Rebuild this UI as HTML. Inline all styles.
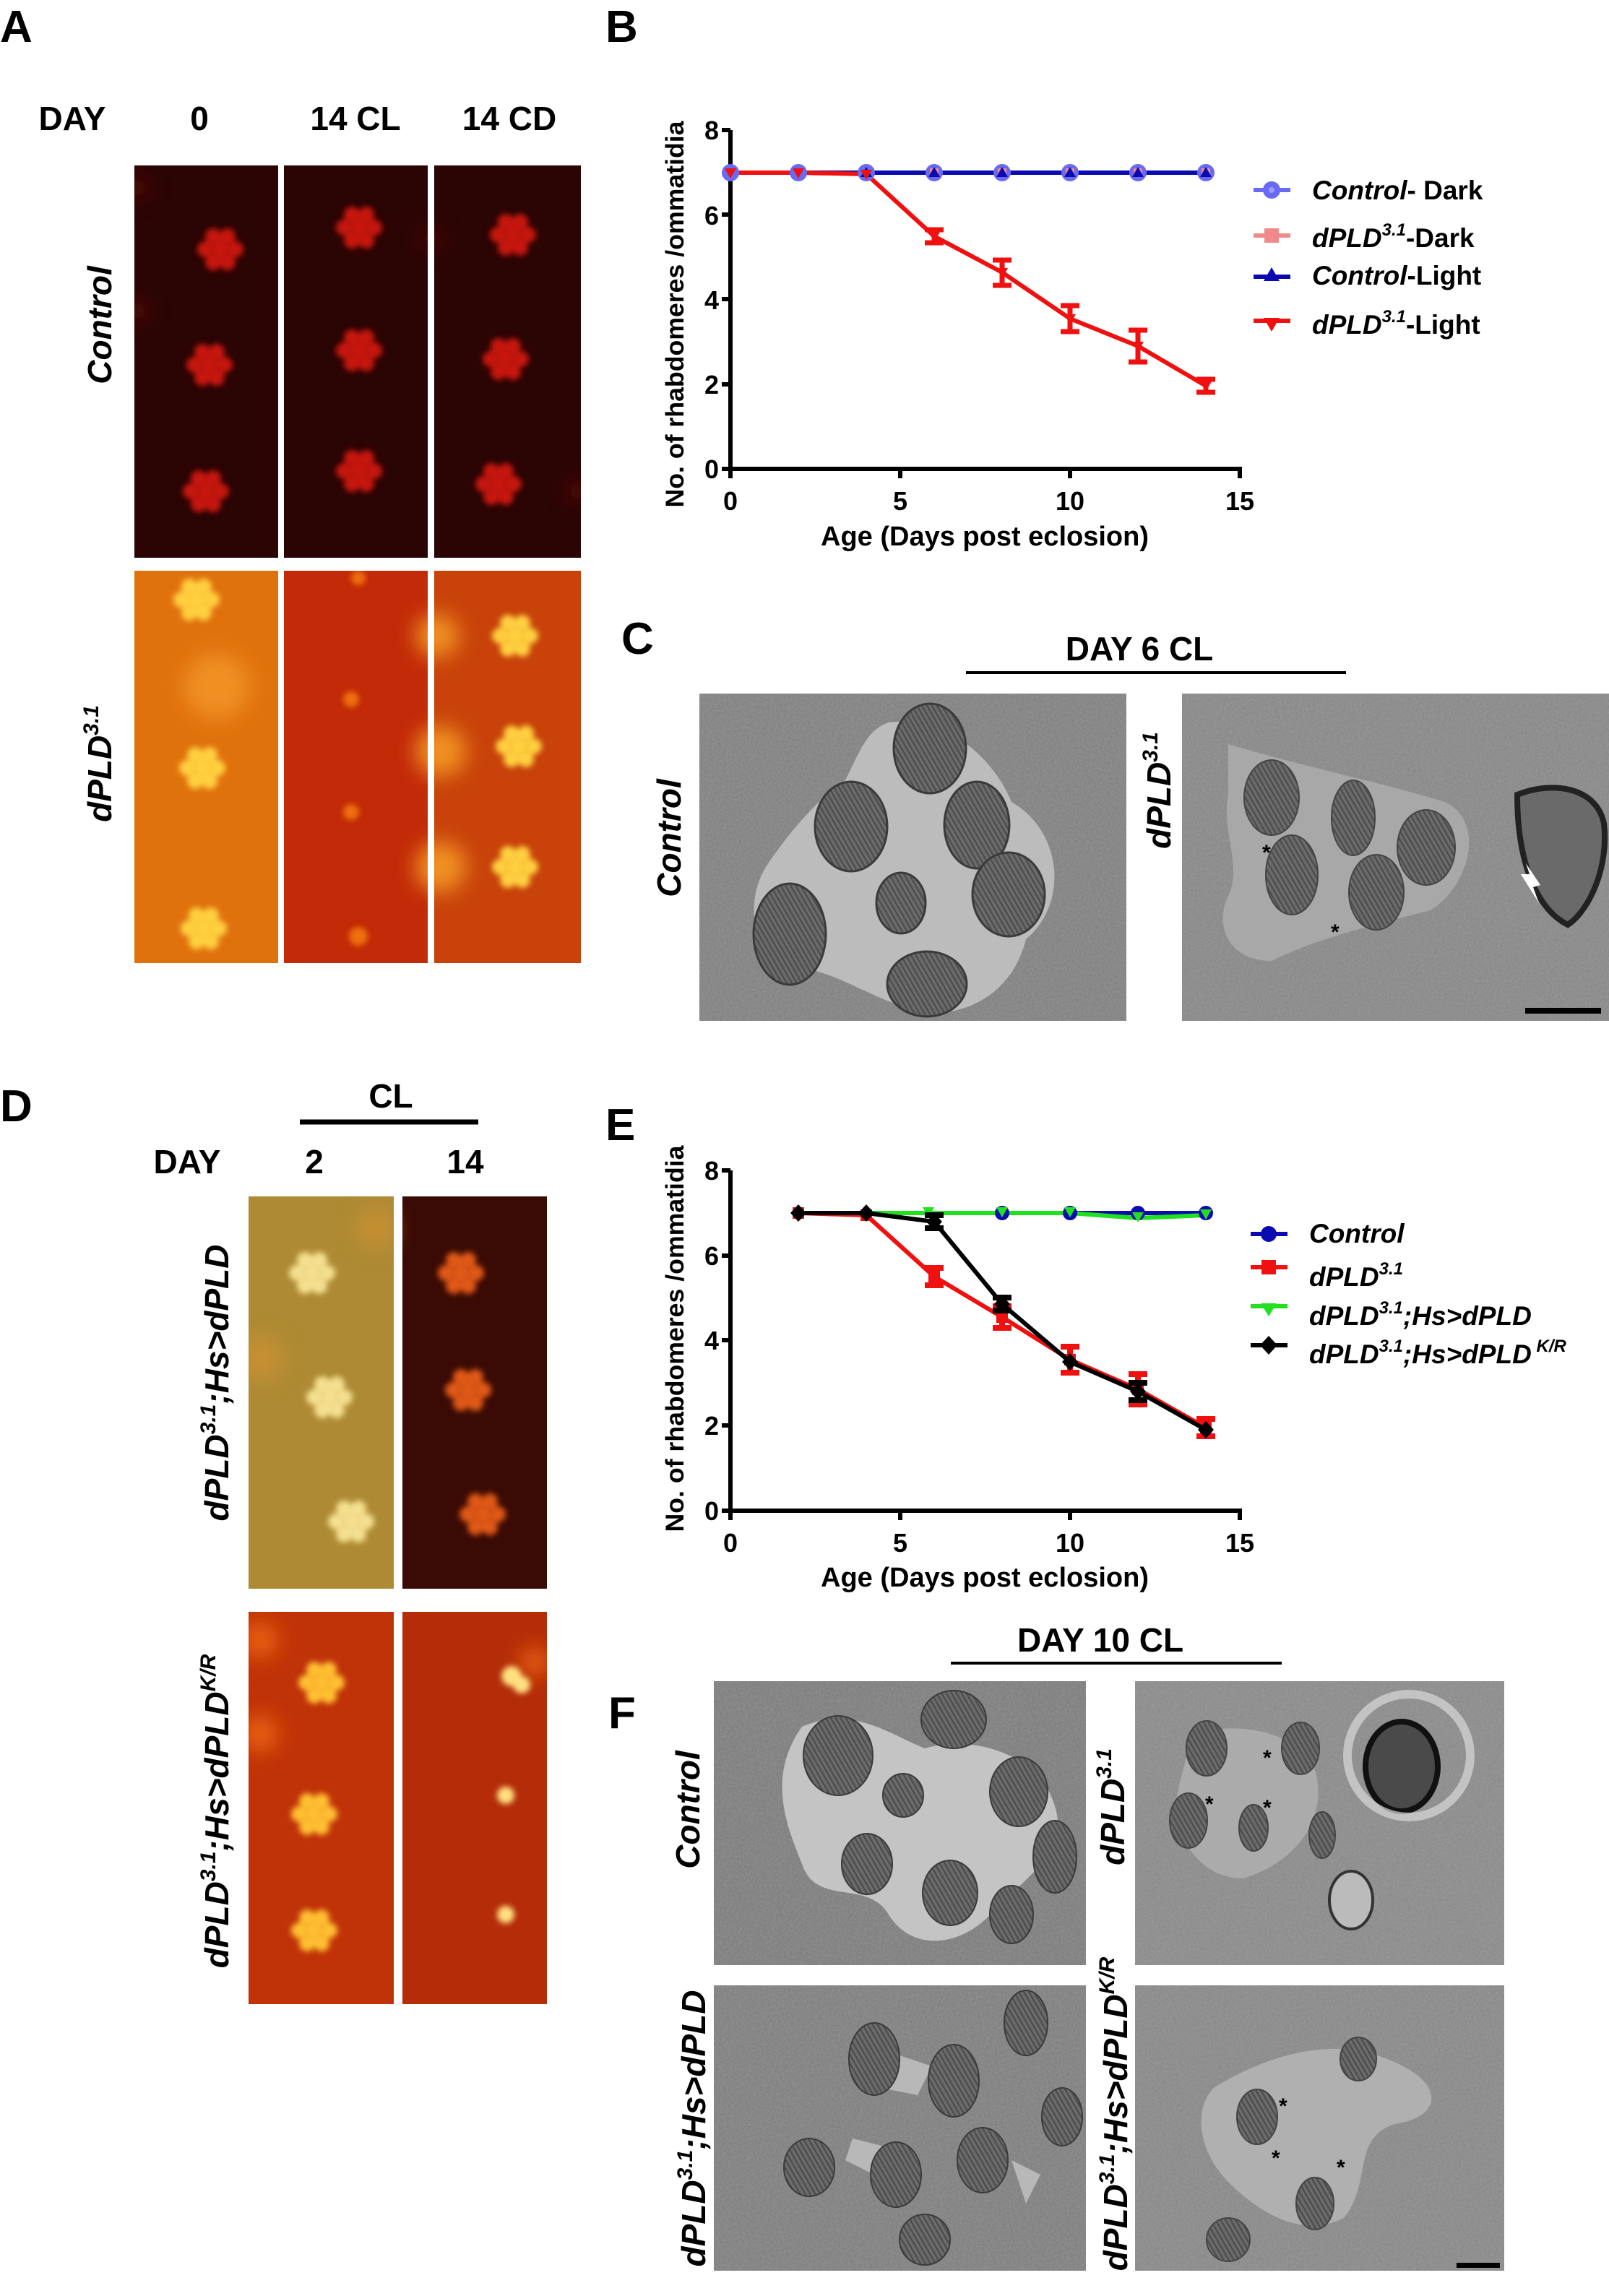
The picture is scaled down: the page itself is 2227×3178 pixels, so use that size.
<!DOCTYPE html>
<html><head><meta charset="utf-8"><style>
html,body{margin:0;padding:0;background:#fff}
svg{display:block}
text{font-family:"Liberation Sans",Arial,sans-serif;font-weight:bold}
</style></head><body>
<svg width="2227" height="3178" viewBox="0 0 2227 3178" xmlns="http://www.w3.org/2000/svg">
<defs>
<filter id="bl" x="-50%" y="-50%" width="200%" height="200%"><feGaussianBlur stdDeviation="4"/></filter>
<filter id="bl2" x="-50%" y="-50%" width="200%" height="200%"><feGaussianBlur stdDeviation="14"/></filter>
<filter id="nz" x="0" y="0" width="1" height="1"><feTurbulence type="fractalNoise" baseFrequency="0.35" numOctaves="2" seed="3"/><feColorMatrix type="matrix" values="0 0 0 0 0.5 0 0 0 0 0.5 0 0 0 0 0.5 0 0 0 0.35 0"/></filter>
<pattern id="st" width="6" height="6" patternUnits="userSpaceOnUse" patternTransform="rotate(60)"><rect width="6" height="6" fill="#6c6c6c"/><rect width="6" height="2.5" fill="#4e4e4e"/></pattern>
<g id="cl"><circle cx="0" cy="0" r="11"/><circle cx="-21" cy="0" r="11"/><circle cx="21" cy="0" r="11"/><circle cx="-10" cy="-18" r="11"/><circle cx="10" cy="-18" r="11"/><circle cx="-10" cy="18" r="11"/><circle cx="10" cy="18" r="11"/></g>
<clipPath id="cA1"><rect x="186" y="229" width="199" height="543"/><rect x="393" y="229" width="199" height="543"/><rect x="601" y="229" width="203" height="543"/></clipPath>
<clipPath id="cA2"><rect x="186" y="790" width="199" height="543"/><rect x="393" y="790" width="199" height="543"/><rect x="601" y="790" width="203" height="543"/></clipPath>
<clipPath id="cD1"><rect x="344" y="1656" width="201" height="543"/><rect x="557" y="1656" width="200" height="543"/></clipPath>
<clipPath id="cD2"><rect x="344" y="2231" width="201" height="543"/><rect x="557" y="2231" width="200" height="543"/></clipPath>
<clipPath id="cC1"><rect x="968" y="960" width="591" height="453"/></clipPath>
<clipPath id="cC2"><rect x="1636" y="960" width="591" height="453"/></clipPath>
<clipPath id="cF"><rect x="988" y="2327" width="515" height="393"/><rect x="1571" y="2327" width="511" height="393"/><rect x="988" y="2748" width="515" height="395"/><rect x="1571" y="2748" width="511" height="395"/></clipPath>
</defs>

<!-- Panel labels -->
<text x="0" y="58" font-size="62">A</text>
<text x="838" y="58" font-size="62">B</text>
<text x="860" y="905" font-size="62">C</text>
<text x="0" y="1552" font-size="62">D</text>
<text x="838" y="1578" font-size="62">E</text>
<text x="842" y="2392" font-size="62">F</text>

<!-- Panel A headers -->
<text x="100" y="180" font-size="46" text-anchor="middle">DAY</text>
<text x="276" y="180" font-size="46" text-anchor="middle">0</text>
<text x="492" y="180" font-size="46" text-anchor="middle">14 CL</text>
<text x="705" y="180" font-size="46" text-anchor="middle">14 CD</text>

<!-- Panel A top row -->
<g clip-path="url(#cA1)">
<rect x="186" y="229" width="620" height="543" fill="#2a0504"/>
<g fill="#c81410" filter="url(#bl)">
<use href="#cl" x="305" y="345"/><use href="#cl" x="290" y="505"/><use href="#cl" x="285" y="680"/>
<use href="#cl" x="497" y="315"/><use href="#cl" x="497" y="485"/><use href="#cl" x="497" y="652"/>
<use href="#cl" x="710" y="325"/><use href="#cl" x="700" y="497"/><use href="#cl" x="690" y="670"/>
</g>
<g fill="#5a0a06" filter="url(#bl2)"><circle cx="190" cy="260" r="15"/><circle cx="190" cy="430" r="15"/><circle cx="596" cy="330" r="14"/><circle cx="800" cy="680" r="15"/></g>
</g>

<!-- Panel A bottom row -->
<g clip-path="url(#cA2)">
<rect x="186" y="790" width="199" height="543" fill="#e0720e"/>
<rect x="393" y="790" width="199" height="543" fill="#c22a08"/>
<rect x="601" y="790" width="203" height="543" fill="#c8420a"/>
<g fill="#f09020" filter="url(#bl2)"><circle cx="300" cy="950" r="45"/><circle cx="605" cy="880" r="30"/><circle cx="610" cy="1040" r="35"/><circle cx="610" cy="1200" r="35"/></g>
<g fill="#ffd040" filter="url(#bl)">
<use href="#cl" x="272" y="830"/><use href="#cl" x="280" y="1063"/><use href="#cl" x="282" y="1285"/>
<use href="#cl" x="713" y="880"/><use href="#cl" x="718" y="1033"/><use href="#cl" x="713" y="1200"/>
</g>
<g fill="#f07010" filter="url(#bl)"><circle cx="496" cy="800" r="10"/><circle cx="486" cy="968" r="11"/><circle cx="486" cy="1124" r="11"/><circle cx="496" cy="1296" r="13"/></g>
</g>

<!-- Rotated labels A -->
<text transform="translate(154,450) rotate(-90)" font-size="46" font-style="italic" text-anchor="middle">Control</text>
<text transform="translate(154,1057) rotate(-90)" font-size="46" font-style="italic" text-anchor="middle">dPLD<tspan font-size="30" dy="-18">3.1</tspan></text>

<!-- Panel B chart -->
<g>
<text transform="translate(946,435) rotate(-90)" font-size="35" text-anchor="middle" textLength="535" lengthAdjust="spacingAndGlyphs">No. of rhabdomeres /ommatidia</text>
<g font-size="36" text-anchor="end">
<text x="995" y="662">0</text><text x="995" y="545">2</text><text x="995" y="428">4</text><text x="995" y="311">6</text><text x="995" y="193">8</text>
</g>
<g font-size="36" text-anchor="middle">
<text x="1011" y="706">0</text><text x="1246" y="706">5</text><text x="1481" y="706">10</text><text x="1716" y="706">15</text>
</g>
<text x="1363" y="755" font-size="38" text-anchor="middle">Age (Days post eclosion)</text>
<g stroke="#000" stroke-width="6" fill="none">
<path d="M1011,180 V652 M1008,649 H1719"/>
<path d="M999,180 H1011 M999,297 H1011 M999,414 H1011 M999,532 H1011 M999,649 H1011"/>
<path d="M1011,649 V662 M1246,649 V662 M1481,649 V662 M1716,649 V662"/>
</g>
<path d="M1011,239 H1669" stroke="#0a0ab0" stroke-width="6"/>
<path d="M1011,239 L1105,239 L1199,241 L1293,327 L1387,377 L1481,441 L1575,479 L1669,534" stroke="#f01010" stroke-width="6" fill="none"/>
<g stroke="#f01010" stroke-width="7" fill="none">
<path d="M1293,318V336M1280,318H1306M1280,336H1306"/>
<path d="M1387,360V395M1374,360H1400M1374,395H1400"/>
<path d="M1481,423V459M1468,423H1494M1468,459H1494"/>
<path d="M1575,457V501M1562,457H1588M1562,501H1588"/>
<path d="M1669,525V543M1656,525H1682M1656,543H1682"/>
</g>
<g fill="#6a6af0">
<circle cx="1011" cy="239" r="12"/><circle cx="1105" cy="239" r="12"/><circle cx="1199" cy="239" r="12"/><circle cx="1293" cy="239" r="12"/><circle cx="1387" cy="239" r="12"/><circle cx="1481" cy="239" r="12"/><circle cx="1575" cy="239" r="12"/><circle cx="1669" cy="239" r="12"/>
</g>
<g fill="#f08a8a">
<rect x="1287" y="233" width="12" height="12"/><rect x="1381" y="233" width="12" height="12"/><rect x="1475" y="233" width="12" height="12"/><rect x="1569" y="233" width="12" height="12"/><rect x="1663" y="233" width="12" height="12"/>
</g>
<g fill="#0a0ab0">
<path d="M1293,231l8,14h-16z M1387,231l8,14h-16z M1481,231l8,14h-16z M1575,231l8,14h-16z M1669,231l8,14h-16z M1199,231l8,14h-16z"/>
</g>
<g fill="#f01010">
<path d="M1003,233h16l-8,14z M1097,233h16l-8,14z M1191,235h16l-8,14z M1285,321h16l-8,14z M1379,371h16l-8,14z M1473,435h16l-8,14z M1567,473h16l-8,14z M1661,528h16l-8,14z"/>
</g>
<!-- legend B -->
<path d="M1735,263H1786" stroke="#6a6af0" stroke-width="6"/><circle cx="1760" cy="263" r="12" fill="#6a6af0"/><circle cx="1760" cy="263" r="4" fill="#9a9aff"/>
<text x="1816" y="276" font-size="37"><tspan font-style="italic">Control</tspan>- Dark</text>
<path d="M1735,326H1786" stroke="#f08a8a" stroke-width="6"/><rect x="1750" y="316" width="20" height="20" fill="#f08a8a"/>
<text x="1816" y="342" font-size="37"><tspan font-style="italic">dPLD</tspan><tspan font-size="24" font-style="italic" dy="-16">3.1</tspan><tspan dy="16">-Dark</tspan></text>
<path d="M1735,383H1786" stroke="#0a0ab0" stroke-width="6"/><path d="M1760,370l11,19h-22z" fill="#0a0ab0"/>
<text x="1816" y="394" font-size="37"><tspan font-style="italic">Control</tspan>-Light</text>
<path d="M1735,444H1786" stroke="#f01010" stroke-width="6"/><path d="M1749,440h22l-11,19z" fill="#f01010"/>
<text x="1816" y="462" font-size="37"><tspan font-style="italic">dPLD</tspan><tspan font-size="24" font-style="italic" dy="-16">3.1</tspan><tspan dy="16">-Light</tspan></text>
</g>

<!-- Panel C -->
<text x="1577" y="914" font-size="46" text-anchor="middle">DAY 6 CL</text>
<path d="M1337,931H1863" stroke="#000" stroke-width="4"/>
<g clip-path="url(#cC1)">
<rect x="968" y="960" width="591" height="453" fill="#7e7e7e"/>
<rect x="968" y="960" width="591" height="453" filter="url(#nz)"/>
<path d="M1230,1000 C1320,990 1380,1060 1400,1110 C1470,1150 1480,1250 1420,1300 C1400,1380 1330,1410 1270,1400 C1200,1380 1150,1340 1100,1340 C1040,1320 1030,1250 1060,1200 C1100,1140 1140,1100 1170,1080 C1190,1040 1200,1010 1230,1000z" fill="#bcbcbc"/>
<g fill="url(#st)" stroke="#3a3a3a" stroke-width="3">
<ellipse cx="1287" cy="1036" rx="50" ry="62"/><ellipse cx="1178" cy="1144" rx="50" ry="62"/><ellipse cx="1352" cy="1142" rx="45" ry="60"/><ellipse cx="1247" cy="1250" rx="34" ry="42"/><ellipse cx="1396" cy="1238" rx="50" ry="58"/><ellipse cx="1093" cy="1293" rx="50" ry="70"/><ellipse cx="1283" cy="1362" rx="55" ry="45"/>
</g>
</g>
<g clip-path="url(#cC2)">
<rect x="1636" y="960" width="591" height="453" fill="#858585"/>
<rect x="1636" y="960" width="591" height="453" filter="url(#nz)"/>
<path d="M1700,1030 C1800,1060 1900,1080 2000,1110 C2060,1140 2030,1230 1980,1260 C1900,1280 1820,1300 1760,1330 C1700,1330 1680,1280 1700,1240 C1720,1200 1690,1150 1700,1100z" fill="#a8a8a8"/>
<g fill="url(#st)" stroke="#444" stroke-width="2">
<ellipse cx="1760" cy="1104" rx="38" ry="52"/><ellipse cx="1873" cy="1132" rx="30" ry="52"/><ellipse cx="1974" cy="1173" rx="40" ry="52"/><ellipse cx="1788" cy="1211" rx="36" ry="55"/><ellipse cx="1905" cy="1235" rx="38" ry="52"/>
</g>
<path d="M2100,1100 C2150,1080 2210,1090 2220,1140 C2227,1200 2200,1260 2170,1280 C2130,1260 2100,1200 2100,1100z" fill="#6a6a6a" stroke="#222" stroke-width="8"/>
<path d="M2130,1250 l-25,-40 l12,0 l-5,-15 l20,30 l-10,3z" fill="#fff"/>
<text x="1747" y="1190" font-size="30">*</text><text x="1842" y="1300" font-size="30">*</text>
<rect x="2111" y="1395" width="105" height="8" fill="#000"/>
</g>
<text transform="translate(942,1160) rotate(-90)" font-size="46" font-style="italic" text-anchor="middle">Control</text>
<text transform="translate(1620,1094) rotate(-90)" font-size="46" font-style="italic" text-anchor="middle">dPLD<tspan font-size="30" dy="-18">3.1</tspan></text>

<!-- Panel D -->
<text x="541" y="1533" font-size="46" text-anchor="middle">CL</text>
<path d="M415,1553H662" stroke="#000" stroke-width="7"/>
<text x="259" y="1624" font-size="46" text-anchor="middle">DAY</text>
<text x="435" y="1624" font-size="46" text-anchor="middle">2</text>
<text x="644" y="1624" font-size="46" text-anchor="middle">14</text>
<g clip-path="url(#cD1)">
<rect x="344" y="1656" width="201" height="543" fill="#ae8a34"/>
<rect x="557" y="1656" width="200" height="543" fill="#3a0a05"/>
<g fill="#c89030" filter="url(#bl2)"><circle cx="360" cy="1880" r="30"/><circle cx="520" cy="1700" r="25"/></g>
<g fill="#f4e090" filter="url(#bl)"><use href="#cl" x="432" y="1762"/><use href="#cl" x="456" y="1934"/><use href="#cl" x="486" y="2106"/></g>
<g fill="#e05818" filter="url(#bl)"><use href="#cl" x="638" y="1762"/><use href="#cl" x="648" y="1924"/><use href="#cl" x="668" y="2096"/></g>
</g>
<g clip-path="url(#cD2)">
<rect x="344" y="2231" width="201" height="543" fill="#c03208"/>
<rect x="557" y="2231" width="200" height="543" fill="#b42c08"/>
<g fill="#e86010" filter="url(#bl2)"><circle cx="360" cy="2270" r="25"/><circle cx="360" cy="2400" r="25"/><circle cx="740" cy="2300" r="20"/></g>
<g fill="#ffc030" filter="url(#bl)"><use href="#cl" x="445" y="2329"/><use href="#cl" x="435" y="2511"/><use href="#cl" x="435" y="2672"/></g>
<g fill="#ffe080" filter="url(#bl)"><circle cx="708" cy="2320" r="14"/><circle cx="722" cy="2332" r="12"/><circle cx="700" cy="2485" r="12"/><circle cx="700" cy="2650" r="12"/></g>
</g>
<text transform="translate(316,1914) rotate(-90)" font-size="46" font-style="italic" text-anchor="middle">dPLD<tspan font-size="30" dy="-18">3.1</tspan><tspan dy="18">;Hs&gt;dPLD</tspan></text>
<text transform="translate(316,2507) rotate(-90)" font-size="46" font-style="italic" text-anchor="middle">dPLD<tspan font-size="30" dy="-18">3.1</tspan><tspan dy="18">;Hs&gt;dPLD</tspan><tspan font-size="30" dy="-18">K/R</tspan></text>

<!-- Panel E chart -->
<g>
<text transform="translate(946,1853) rotate(-90)" font-size="35" text-anchor="middle" textLength="535" lengthAdjust="spacingAndGlyphs">No. of rhabdomeres /ommatidia</text>
<g font-size="36" text-anchor="end">
<text x="995" y="2104">0</text><text x="995" y="1986">2</text><text x="995" y="1868">4</text><text x="995" y="1751">6</text><text x="995" y="1633">8</text>
</g>
<g font-size="36" text-anchor="middle">
<text x="1011" y="2148">0</text><text x="1246" y="2148">5</text><text x="1481" y="2148">10</text><text x="1716" y="2148">15</text>
</g>
<text x="1363" y="2196" font-size="38" text-anchor="middle">Age (Days post eclosion)</text>
<g stroke="#000" stroke-width="6" fill="none">
<path d="M1011,1620 V2094 M1008,2091 H1719"/>
<path d="M999,1620 H1011 M999,1738 H1011 M999,1855 H1011 M999,1973 H1011 M999,2091 H1011"/>
<path d="M1011,2091 V2104 M1246,2091 V2104 M1481,2091 V2104 M1716,2091 V2104"/>
</g>
<path d="M1105,1679 H1669" stroke="#0a0ab0" stroke-width="6"/>
<path d="M1105,1679 H1481 L1575,1686 L1669,1682" stroke="#20e020" stroke-width="6" fill="none"/>
<g fill="#0a0ab0"><circle cx="1387" cy="1679" r="10"/><circle cx="1481" cy="1679" r="10"/><circle cx="1575" cy="1679" r="10"/><circle cx="1669" cy="1679" r="10"/></g>
<g fill="#20e020"><path d="M1277,1671h16l-8,14z M1379,1671h16l-8,14z M1473,1671h16l-8,14z M1567,1678h16l-8,14z M1661,1674h16l-8,14z"/></g>
<path d="M1105,1679 L1199,1682 L1293,1767 L1387,1823 L1481,1882 L1575,1923 L1669,1976" stroke="#f01010" stroke-width="6" fill="none"/>
<g stroke="#f01010" stroke-width="8" fill="none">
<path d="M1293,1755V1779M1280,1755H1306M1280,1779H1306"/>
<path d="M1387,1808V1838M1374,1808H1400M1374,1838H1400"/>
<path d="M1481,1864V1900M1468,1864H1494M1468,1900H1494"/>
<path d="M1575,1902V1944M1562,1902H1588M1562,1944H1588"/>
<path d="M1669,1964V1988M1656,1964H1682M1656,1988H1682"/>
</g>
<g fill="#f01010"><rect x="1097" y="1671" width="16" height="16"/><rect x="1191" y="1674" width="16" height="16"/><rect x="1285" y="1759" width="16" height="16"/><rect x="1379" y="1815" width="16" height="16"/><rect x="1473" y="1874" width="16" height="16"/><rect x="1567" y="1915" width="16" height="16"/><rect x="1661" y="1968" width="16" height="16"/></g>
<path d="M1105,1679 L1199,1679 L1293,1691 L1387,1805 L1481,1885 L1575,1926 L1669,1979" stroke="#000" stroke-width="6" fill="none"/>
<g stroke="#000" stroke-width="8" fill="none">
<path d="M1293,1682V1700M1280,1682H1306M1280,1700H1306"/>
<path d="M1387,1796V1814M1374,1796H1400M1374,1814H1400"/>
<path d="M1575,1914V1938M1562,1914H1588M1562,1938H1588"/>
</g>
<g fill="#000"><path d="M1105,1667l11,12l-11,12l-11,-12z M1199,1667l11,12l-11,12l-11,-12z M1293,1679l11,12l-11,12l-11,-12z M1387,1793l11,12l-11,12l-11,-12z M1481,1873l11,12l-11,12l-11,-12z M1575,1914l11,12l-11,12l-11,-12z M1669,1967l11,12l-11,12l-11,-12z"/></g>
<!-- legend E -->
<path d="M1731,1708H1782" stroke="#0a0ab0" stroke-width="6"/><circle cx="1756" cy="1708" r="11" fill="#0a0ab0"/>
<text x="1812" y="1720" font-size="37" font-style="italic">Control</text>
<path d="M1731,1754H1782" stroke="#f01010" stroke-width="6"/><rect x="1746" y="1744" width="20" height="20" fill="#f01010"/>
<text x="1812" y="1780" font-size="37" font-style="italic">dPLD<tspan font-size="24" dy="-16">3.1</tspan></text>
<path d="M1731,1808H1782" stroke="#20e020" stroke-width="6"/><path d="M1745,1804h22l-11,18z" fill="#20e020"/>
<text x="1812" y="1834" font-size="37" font-style="italic">dPLD<tspan font-size="24" dy="-16">3.1</tspan><tspan dy="16">;Hs&gt;dPLD</tspan></text>
<path d="M1731,1862H1782" stroke="#000" stroke-width="6"/><path d="M1756,1849l12,13l-12,13l-12,-13z" fill="#000"/>
<text x="1812" y="1887" font-size="37" font-style="italic">dPLD<tspan font-size="24" dy="-16">3.1</tspan><tspan dy="16">;Hs&gt;dPLD</tspan><tspan font-size="24" dy="-16"> K/R</tspan></text>
</g>

<!-- Panel F -->
<text x="1523" y="2286" font-size="46" text-anchor="middle">DAY 10 CL</text>
<path d="M1316,2302H1774" stroke="#000" stroke-width="4"/>
<g clip-path="url(#cF)">
<rect x="988" y="2327" width="515" height="393" fill="#7a7a7a"/>
<rect x="988" y="2327" width="515" height="393" filter="url(#nz)"/>
<path d="M1110,2390 C1180,2360 1230,2400 1280,2420 C1350,2400 1440,2430 1460,2500 C1480,2560 1420,2600 1380,2640 C1330,2700 1260,2700 1230,2650 C1200,2600 1130,2640 1110,2580 C1090,2530 1060,2460 1110,2390z" fill="#c4c4c4"/>
<g fill="url(#st)" stroke="#3a3a3a" stroke-width="2">
<ellipse cx="1160" cy="2430" rx="48" ry="55"/><ellipse cx="1320" cy="2380" rx="45" ry="40"/><ellipse cx="1250" cy="2485" rx="28" ry="30"/><ellipse cx="1410" cy="2480" rx="40" ry="48"/><ellipse cx="1200" cy="2580" rx="35" ry="42"/><ellipse cx="1315" cy="2620" rx="38" ry="45"/><ellipse cx="1400" cy="2650" rx="30" ry="40"/><ellipse cx="1460" cy="2570" rx="30" ry="50"/>
</g>
<rect x="1571" y="2327" width="511" height="393" fill="#888"/>
<rect x="1571" y="2327" width="511" height="393" filter="url(#nz)"/>
<path d="M1650,2400 C1720,2380 1800,2400 1820,2450 C1840,2520 1790,2580 1720,2600 C1660,2600 1620,2540 1630,2480z" fill="#ababab"/>
<g fill="url(#st)" stroke="#444" stroke-width="2">
<ellipse cx="1670" cy="2420" rx="28" ry="38"/><ellipse cx="1800" cy="2420" rx="26" ry="36"/><ellipse cx="1645" cy="2520" rx="26" ry="38"/><ellipse cx="1735" cy="2530" rx="20" ry="32"/><ellipse cx="1830" cy="2540" rx="18" ry="32"/>
</g>
<ellipse cx="1940" cy="2445" rx="50" ry="62" fill="#4a4a4a" stroke="#111" stroke-width="8"/>
<ellipse cx="1950" cy="2430" rx="85" ry="85" fill="none" stroke="#d8d8d8" stroke-width="12" opacity="0.7"/>
<ellipse cx="1870" cy="2630" rx="30" ry="40" fill="#bbb" stroke="#333" stroke-width="4"/>
<text x="1748" y="2443" font-size="30">*</text><text x="1668" y="2507" font-size="30">*</text><text x="1748" y="2512" font-size="30">*</text>
<rect x="988" y="2748" width="515" height="395" fill="#7c7c7c"/>
<rect x="988" y="2748" width="515" height="395" filter="url(#nz)"/>
<g fill="#b8b8b8"><path d="M1230,2840 l60,20 l-20,40 l-50,-10z"/><path d="M1180,2960 l40,10 l-10,40 l-40,-20z"/><path d="M1400,2990 l40,20 l-20,40z"/></g>
<g fill="url(#st)" stroke="#3a3a3a" stroke-width="2">
<ellipse cx="1210" cy="2850" rx="35" ry="50"/><ellipse cx="1320" cy="2880" rx="35" ry="50"/><ellipse cx="1420" cy="2800" rx="30" ry="45"/><ellipse cx="1120" cy="3000" rx="35" ry="40"/><ellipse cx="1240" cy="3010" rx="35" ry="45"/><ellipse cx="1360" cy="2990" rx="35" ry="45"/><ellipse cx="1280" cy="3100" rx="35" ry="35"/><ellipse cx="1470" cy="2930" rx="28" ry="40"/>
</g>
<rect x="1571" y="2748" width="511" height="395" fill="#868686"/>
<rect x="1571" y="2748" width="511" height="395" filter="url(#nz)"/>
<path d="M1680,2890 C1760,2840 1850,2820 1920,2850 C2000,2880 2000,2930 1930,2940 C1870,2960 1900,3020 1860,3070 C1800,3100 1740,3060 1700,3020 C1660,2980 1650,2920 1680,2890z" fill="#b0b0b0"/>
<g fill="url(#st)" stroke="#444" stroke-width="2">
<ellipse cx="1740" cy="2930" rx="28" ry="38"/><ellipse cx="1820" cy="3050" rx="26" ry="36"/><ellipse cx="1700" cy="3100" rx="30" ry="30"/><ellipse cx="1880" cy="2850" rx="25" ry="30"/>
</g>
<text x="1770" y="2925" font-size="30">*</text><text x="1760" y="2997" font-size="30">*</text><text x="1850" y="3010" font-size="30">*</text>
<rect x="2016" y="3132" width="60" height="7" fill="#000"/>
</g>
<text transform="translate(968,2505) rotate(-90)" font-size="46" font-style="italic" text-anchor="middle">Control</text>
<text transform="translate(1556,2501) rotate(-90)" font-size="46" font-style="italic" text-anchor="middle">dPLD<tspan font-size="30" dy="-18">3.1</tspan></text>
<text transform="translate(976,2946) rotate(-90)" font-size="46" font-style="italic" text-anchor="middle">dPLD<tspan font-size="30" dy="-18">3.1</tspan><tspan dy="18">;Hs&gt;dPLD</tspan></text>
<text transform="translate(1560,2926) rotate(-90)" font-size="46" font-style="italic" text-anchor="middle">dPLD<tspan font-size="30" dy="-18">3.1</tspan><tspan dy="18">;Hs&gt;dPLD</tspan><tspan font-size="30" dy="-18">K/R</tspan></text>
</svg>
</body></html>
